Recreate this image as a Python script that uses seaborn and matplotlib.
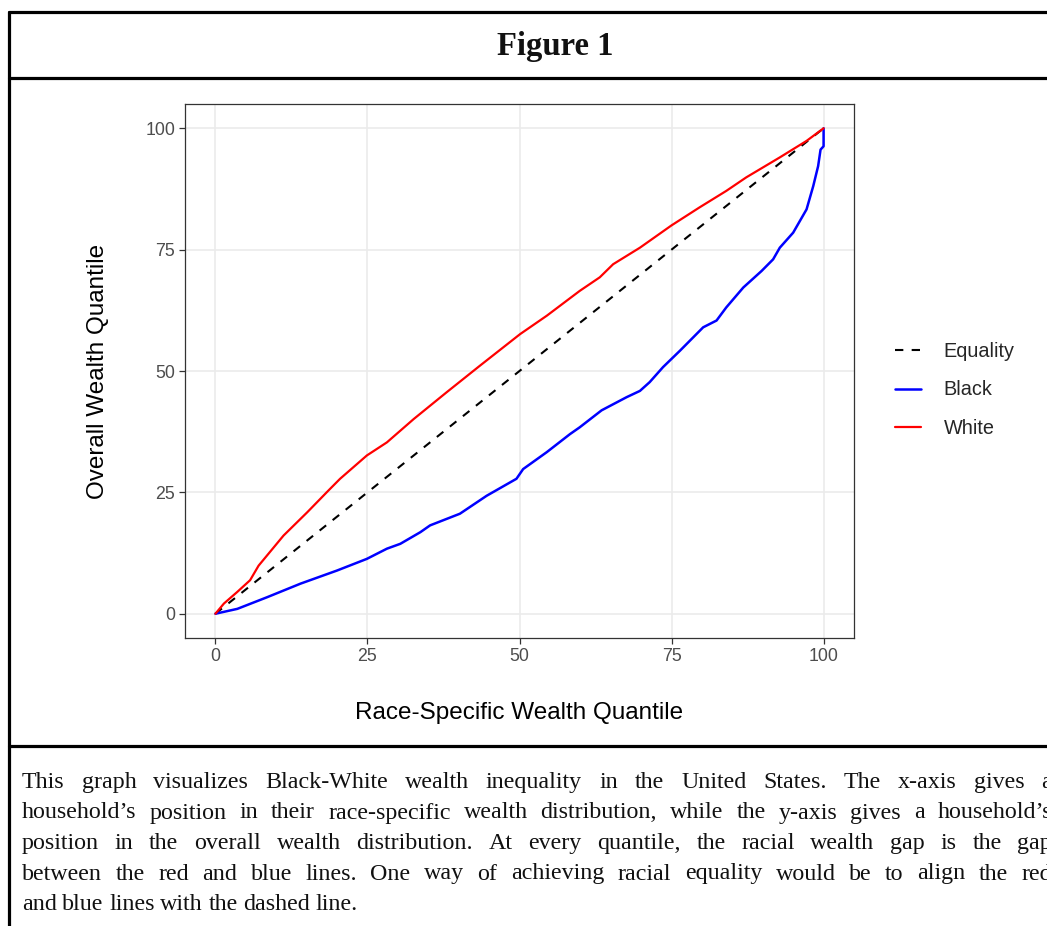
import seaborn as sns
import matplotlib.pyplot as plt
from matplotlib.lines import Line2D

# Кривые (квантиль внутри расы -> общий квантиль)
quantile_white = [0, 1.4, 3.6, 5.7, 7.1, 11.2, 15.1, 18.6, 20.5, 24.9, 28.2, 32.6, 38.0,
                  43.5, 50.1, 54.5, 59.9, 63.2, 65.4, 69.8, 75.0, 79.6, 84.0, 87.3, 92.8,
                  97.2, 100]
overall_white = [0, 2.1, 4.5, 6.9, 9.9, 16.1, 20.9, 25.4, 27.8, 32.6, 35.3, 40.1, 45.6,
                 51.1, 57.6, 61.4, 66.5, 69.3, 72.0, 75.4, 80.0, 83.7, 87.1, 89.9, 94.0,
                 97.4, 100]

quantile_black = [0, 3.6, 8.5, 14.0, 20.0, 24.9, 28.2, 30.4, 33.7, 35.3, 40.2, 44.6, 49.5,
                  50.6, 54.5, 58.3, 59.9, 63.5, 67.6, 69.8, 71.4, 73.6, 76.4, 80.2, 82.4,
                  84.0, 86.8, 89.8, 91.7, 92.8, 95.0, 97.2, 98.3, 99.1, 99.5, 100, 100]
overall_black = [0, 1.0, 3.4, 6.2, 8.9, 11.3, 13.4, 14.4, 16.8, 18.2, 20.6, 24.3, 27.8,
                 29.8, 33.3, 37.0, 38.4, 41.9, 44.6, 45.9, 47.7, 50.8, 54.2, 59.0, 60.4,
                 63.1, 67.2, 70.6, 73.0, 75.4, 78.5, 83.3, 88.1, 92.2, 95.6, 96.3, 100]

equality = [0, 100]
ticks = [0, 25, 50, 75, 100]

caption_lines = [
    "This graph visualizes Black-White wealth inequality in the United States. The x-axis gives a",
    "household\u2019s position in their race-specific wealth distribution, while the y-axis gives a household\u2019s",
    "position in the overall wealth distribution. At every quantile, the racial wealth gap is the gap",
    "between the red and blue lines. One way of achieving racial equality would be to align the red",
    "and blue lines with the dashed line.",
]

W, H = 1047, 926

sns.set_theme(style="whitegrid")
plt.rcParams['font.family'] = ['Liberation Sans', 'DejaVu Sans']

fig = plt.figure(figsize=(W / 100, H / 100), dpi=100)
ax = fig.add_axes([185 / W, 1 - 638 / H, (854 - 185) / W, (638 - 104) / H])

# Линии
sns.lineplot(x=equality, y=equality, ax=ax, color='black', linewidth=1.5,
             linestyle=(0, (4, 4)), label='Equality')
sns.lineplot(x=quantile_black, y=overall_black, ax=ax, color='#0000FF', linewidth=1.8,
             sort=False, estimator=None, label='Black')
sns.lineplot(x=quantile_white, y=overall_white, ax=ax, color='#FF0000', linewidth=1.6,
             sort=False, estimator=None, label='White')

ax.set_xlim(-5, 105)
ax.set_ylim(-5, 105)
ax.set_xticks(ticks)
ax.set_yticks(ticks)
ax.grid(True, color='#EBEBEB', linewidth=1.2)
ax.tick_params(bottom=True, left=True, length=4, width=0.9, color='#333333',
               labelcolor='#4D4D4D', labelsize=12.8, pad=3)
for s in ax.spines.values():
    s.set_color('#333333')
    s.set_linewidth(0.9)
ax.set_xlabel('Race-Specific Wealth Quantile', fontsize=17.5, color='black', labelpad=27)
ax.set_ylabel('Overall Wealth Quantile', fontsize=17.5, color='black', labelpad=26)

ax.legend(loc='center left', bbox_to_anchor=(895 / W, 1 - 390 / H),
          bbox_transform=fig.transFigure, frameon=False, fontsize=14.3,
          handlelength=1.3, handletextpad=1.15, labelspacing=1.0,
          borderpad=0, borderaxespad=0)

# Рамка вокруг рисунка
frame_kw = dict(color='black', linewidth=2.3, transform=fig.transFigure)
fig.add_artist(Line2D([9 / W, 1], [1 - 12 / H, 1 - 12 / H], **frame_kw))
fig.add_artist(Line2D([9 / W, 1], [1 - 78 / H, 1 - 78 / H], **frame_kw))
fig.add_artist(Line2D([9 / W, 1], [1 - 746 / H, 1 - 746 / H], **frame_kw))
fig.add_artist(Line2D([9 / W, 9 / W], [0, 1 - 12 / H], **frame_kw))

fig.text(555 / W, 1 - 46 / H, 'Figure 1', ha='center', va='center', fontsize=23.5,
         fontweight='bold', family='Liberation Serif', color='#111111')

# Подпись с выравниванием по ширине
fig.canvas.draw()
renderer = fig.canvas.get_renderer()
left_px, right_px = 22, 1052
for i, line in enumerate(caption_lines):
    y = 1 - (788 + i * 30.5) / H
    words = line.split()
    texts = [fig.text(0, y, w, fontsize=17.3, family='Liberation Serif', va='baseline',
                      color='#111111') for w in words]
    widths = [t.get_window_extent(renderer).width for t in texts]
    if i == len(caption_lines) - 1:
        gap = 5.5
    else:
        gap = (right_px - left_px - sum(widths)) / (len(words) - 1)
    x = left_px
    for t, w in zip(texts, widths):
        t.set_x(x / W)
        x += w + gap

fig.savefig('out.png', dpi=100)
